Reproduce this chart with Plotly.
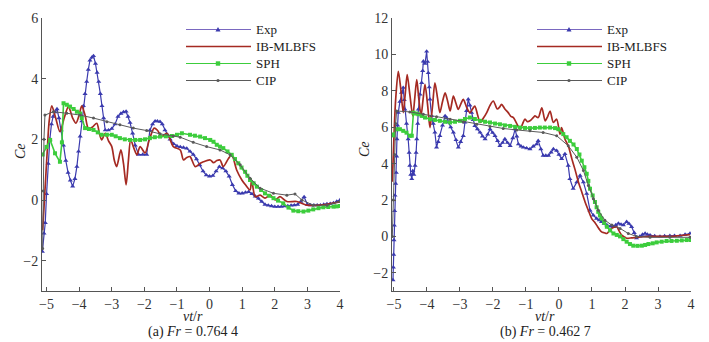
import plotly.graph_objects as go

# ---------------- (a) Fr = 0.764 4 ----------------
a_exp_x = [-5.13,-5.08,-5.04,-5.0,-4.95,-4.9,-4.85,-4.8,-4.74,-4.68,-4.62,-4.55,-4.48,-4.41,-4.34,-4.27,-4.2,-4.13,-4.07,-4.02,-3.97,-3.92,-3.87,-3.82,-3.77,-3.72,-3.67,-3.61,-3.56,-3.5,-3.45,-3.4,-3.35,-3.3,-3.25,-3.2,-3.1,-3.0,-2.9,-2.81,-2.72,-2.64,-2.56,-2.5,-2.44,-2.36,-2.28,-2.18,-2.05,-1.93,-1.83,-1.75,-1.67,-1.6,-1.52,-1.45,-1.37,-1.29,-1.21,-1.1,-1.0,-0.9,-0.8,-0.7,-0.6,-0.5,-0.4,-0.3,-0.2,-0.1,0.0,0.1,0.2,0.3,0.4,0.5,0.6,0.7,0.8,0.9,1.0,1.1,1.2,1.3,1.4,1.5,1.6,1.7,1.8,1.9,2.0,2.1,2.2,2.3,2.4,2.5,2.6,2.7,2.8,2.9,3.0,3.1,3.2,3.3,3.4,3.5,3.6,3.7,3.8,3.9,4.0]
a_exp_y = [-1.7,-1.1,-0.75,0.2,1.2,2.0,2.5,2.75,2.9,3.0,2.7,2.3,1.8,1.3,0.9,0.65,0.45,0.7,1.1,1.6,2.1,2.6,3.1,3.5,3.9,4.3,4.6,4.7,4.75,4.5,4.2,3.9,3.5,3.1,2.7,2.3,2.3,2.35,2.5,2.75,2.85,2.9,2.92,2.75,2.55,2.2,1.8,1.5,1.5,1.5,2.3,2.5,2.6,2.6,2.58,2.5,2.3,2.15,2.0,1.85,1.78,1.75,1.73,1.7,1.6,1.5,1.35,1.15,0.95,0.82,0.78,0.8,0.95,1.1,1.05,0.95,0.78,0.5,0.3,0.22,0.22,0.25,0.27,0.2,0.12,0.05,-0.05,-0.15,-0.18,-0.2,-0.22,-0.22,-0.22,-0.2,-0.2,-0.18,-0.17,-0.15,-0.05,0.1,-0.15,-0.17,-0.17,-0.17,-0.17,-0.15,-0.13,-0.12,-0.1,-0.05,0.0]

a_ib_x = [-5.12,-5.05,-4.98,-4.92,-4.84,-4.72,-4.59,-4.46,-4.33,-4.2,-4.1,-4.0,-3.92,-3.82,-3.72,-3.6,-3.46,-3.38,-3.31,-3.2,-3.1,-3.0,-2.92,-2.85,-2.72,-2.64,-2.56,-2.49,-2.42,-2.32,-2.23,-2.13,-1.98,-1.85,-1.7,-1.6,-1.47,-1.31,-1.11,-0.9,-0.8,-0.7,-0.6,-0.44,-0.3,-0.19,0.02,0.12,0.22,0.32,0.42,0.58,0.68,0.83,0.99,1.1,1.24,1.29,1.4,1.55,1.7,1.86,2.01,2.16,2.37,2.67,2.98,3.39,3.8,4.0]
a_ib_y = [-1.0,0.3,1.6,2.6,3.1,2.7,2.25,2.7,3.08,2.7,2.53,2.8,3.1,2.8,2.37,2.4,2.53,2.2,1.98,2.2,1.95,1.76,1.3,1.1,1.65,1.2,0.5,1.3,1.98,1.7,1.49,1.76,1.55,1.98,2.37,2.3,2.09,2.2,1.76,1.65,1.32,1.4,1.43,1.1,1.2,1.26,1.32,1.23,1.3,1.32,1.1,1.37,1.49,0.99,0.66,0.5,0.33,0.66,0.11,0.16,0.06,0.16,0.0,0.11,-0.05,-0.05,-0.17,-0.17,-0.1,-0.05]

a_sph_x = [-5.12,-5.0,-4.89,-4.74,-4.59,-4.53,-4.48,-4.38,-4.28,-4.17,-4.07,-3.97,-3.92,-3.82,-3.7,-3.56,-3.43,-3.31,-3.15,-3.0,-2.88,-2.75,-2.6,-2.44,-2.28,-2.13,-1.98,-1.83,-1.68,-1.52,-1.34,-1.16,-1.0,-0.85,-0.6,-0.45,-0.29,-0.14,0.02,0.12,0.22,0.32,0.42,0.55,0.68,0.78,0.88,0.98,1.09,1.16,1.24,1.35,1.45,1.58,1.7,1.83,1.96,2.1,2.26,2.42,2.57,2.72,2.88,3.03,3.18,3.34,3.49,3.64,3.8,3.9,4.0]
a_sph_y = [1.5,1.75,1.98,1.54,1.26,1.9,3.19,3.14,3.08,3.0,2.91,2.85,2.7,2.37,2.34,2.31,2.23,2.15,2.15,2.15,2.1,2.04,2.0,1.98,1.98,1.98,2.0,2.04,2.07,2.09,2.1,2.11,2.15,2.2,2.15,2.12,2.09,2.04,1.98,1.92,1.82,1.76,1.71,1.6,1.49,1.35,1.21,1.07,0.93,0.8,0.66,0.55,0.44,0.33,0.22,0.14,0.06,-0.02,-0.11,-0.25,-0.35,-0.37,-0.38,-0.35,-0.31,-0.27,-0.24,-0.23,-0.22,-0.21,-0.2]

a_cip_x = [-5.12,-5.1,-5.08,-5.05,-4.79,-4.38,-3.97,-3.56,-3.15,-2.75,-2.34,-1.93,-1.52,-1.11,-0.9,-0.5,-0.09,0.32,0.63,0.94,1.24,1.55,1.96,2.37,2.62,2.83,3.18,3.6,4.0]
a_cip_y = [-1.6,0.3,2.0,2.8,2.91,2.86,2.8,2.7,2.58,2.48,2.37,2.29,2.18,2.11,2.07,1.9,1.76,1.65,1.49,1.16,0.72,0.39,0.22,0.16,0.2,0.0,-0.17,-0.17,-0.05]

# ---------------- (b) Fr = 0.462 7 ----------------
b_exp_x = [-5.03,-5.02,-5.01,-5.0,-4.99,-4.98,-4.97,-4.95,-4.93,-4.92,-4.91,-4.89,-4.87,-4.82,-4.77,-4.72,-4.69,-4.67,-4.62,-4.57,-4.54,-4.52,-4.49,-4.46,-4.43,-4.4,-4.36,-4.33,-4.31,-4.28,-4.26,-4.21,-4.16,-4.13,-4.11,-4.06,-4.01,-3.98,-3.96,-3.93,-3.91,-3.86,-3.81,-3.76,-3.71,-3.66,-3.61,-3.53,-3.45,-3.4,-3.35,-3.28,-3.2,-3.12,-3.05,-2.98,-2.9,-2.85,-2.8,-2.75,-2.7,-2.65,-2.6,-2.55,-2.47,-2.39,-2.32,-2.24,-2.16,-2.09,-2.01,-1.94,-1.86,-1.79,-1.71,-1.64,-1.56,-1.48,-1.4,-1.33,-1.28,-1.23,-1.15,-1.08,-0.98,-0.88,-0.78,-0.68,-0.63,-0.55,-0.48,-0.4,-0.32,-0.24,-0.17,-0.07,0.0,0.08,0.18,0.28,0.33,0.43,0.54,0.64,0.74,0.84,0.94,1.04,1.14,1.22,1.29,1.37,1.45,1.55,1.65,1.72,1.8,1.88,1.95,2.05,2.12,2.2,2.28,2.35,2.45,2.53,2.61,2.68,2.76,2.9,3.06,3.2,3.36,3.5,3.67,3.82,3.97]
b_exp_y = [-2.4,-1.7,-1.0,-0.2,0.6,1.4,2.25,2.9,3.5,4.4,5.35,6.1,6.8,7.4,7.9,8.17,7.5,6.98,6.2,5.35,4.6,3.89,3.4,3.16,3.6,3.4,3.89,4.6,5.35,6.2,6.98,7.8,8.44,9.1,9.62,9.5,10.16,9.6,8.98,8.2,7.53,6.62,6.2,5.71,4.89,5.2,5.53,6.1,6.62,6.5,6.26,6.0,5.71,5.3,4.89,5.2,5.53,6.26,6.9,7.53,7.2,6.8,6.4,6.07,5.9,5.71,5.5,5.35,5.6,5.89,5.7,5.53,5.25,4.98,5.15,5.35,5.15,4.98,5.4,5.89,5.5,5.07,4.95,4.89,4.85,4.8,4.95,5.07,5.25,4.8,4.44,4.44,4.44,4.62,4.8,4.71,4.5,4.26,4.53,3.89,3.16,2.62,2.98,3.34,2.98,2.35,1.43,1.16,0.98,0.9,0.8,0.7,0.62,0.55,0.53,0.62,0.71,0.66,0.62,0.8,0.7,0.53,0.2,-0.1,0.0,0.1,0.16,0.1,0.07,0.02,0.0,0.02,0.04,0.04,0.04,0.1,0.16]

b_ib_x = [-5.05,-5.0,-4.95,-4.87,-4.8,-4.72,-4.66,-4.6,-4.52,-4.43,-4.37,-4.31,-4.25,-4.18,-4.12,-4.06,-3.98,-3.91,-3.83,-3.76,-3.68,-3.61,-3.53,-3.45,-3.37,-3.3,-3.25,-3.2,-3.12,-3.05,-2.97,-2.9,-2.8,-2.7,-2.62,-2.55,-2.47,-2.39,-2.29,-2.19,-2.09,-1.99,-1.87,-1.8,-1.74,-1.64,-1.54,-1.46,-1.38,-1.28,-1.18,-1.1,-1.03,-0.95,-0.88,-0.78,-0.73,-0.63,-0.52,-0.42,-0.34,-0.27,-0.17,-0.07,0.03,0.08,0.18,0.28,0.39,0.48,0.59,0.69,0.79,0.89,0.99,1.07,1.14,1.22,1.29,1.37,1.45,1.52,1.6,1.67,1.75,1.82,1.9,1.97,2.05,2.2,2.35,2.55,2.76,3.06,3.36,3.67,3.97]
b_ib_y = [3.0,5.5,7.5,9.07,8.2,6.8,7.8,8.89,7.8,6.62,7.6,8.62,7.6,6.62,7.5,8.35,7.2,5.98,7.2,8.44,7.6,6.8,7.4,7.89,7.4,6.89,7.3,7.71,7.3,6.98,7.3,7.53,7.1,6.8,7.0,7.16,6.7,6.26,6.5,6.8,7.2,7.44,7.0,7.1,7.26,7.0,6.8,6.6,6.53,6.2,5.89,6.2,6.44,6.3,6.35,6.53,6.62,6.53,7.07,6.35,6.6,6.89,6.26,6.44,5.62,5.98,5.35,4.98,4.26,3.71,2.98,2.44,1.89,1.43,0.98,0.8,0.62,0.4,0.25,0.2,0.16,0.3,0.44,0.5,0.53,0.3,0.07,-0.02,-0.1,-0.08,-0.05,-0.02,0.0,0.0,0.0,0.05,0.1]

b_sph_x = [-5.05,-5.02,-4.92,-4.82,-4.72,-4.62,-4.52,-4.46,-4.41,-4.33,-4.26,-4.16,-4.06,-3.91,-3.76,-3.61,-3.45,-3.3,-3.15,-3.0,-2.85,-2.7,-2.55,-2.39,-2.24,-2.09,-1.94,-1.79,-1.64,-1.48,-1.33,-1.18,-1.03,-0.88,-0.73,-0.58,-0.43,-0.27,-0.12,-0.02,0.13,0.23,0.33,0.44,0.54,0.62,0.69,0.77,0.84,0.89,0.94,1.02,1.09,1.14,1.19,1.24,1.29,1.37,1.45,1.55,1.65,1.75,1.85,1.95,2.05,2.15,2.25,2.38,2.51,2.61,2.71,2.84,2.96,3.11,3.26,3.41,3.57,3.72,3.87,4.0]
b_sph_y = [5.6,5.55,5.89,5.89,5.8,5.7,5.53,5.53,6.8,6.75,6.71,6.62,6.53,6.44,6.4,6.35,6.3,6.26,6.3,6.35,6.45,6.53,6.45,6.35,6.3,6.26,6.2,6.16,6.1,6.07,6.02,5.98,5.96,5.95,5.96,5.98,5.98,5.98,5.95,5.89,5.62,5.45,5.25,5.05,4.8,4.5,4.16,3.8,3.44,3.05,2.62,2.25,1.89,1.6,1.35,1.15,0.98,0.75,0.53,0.33,0.16,0.08,0.0,-0.15,-0.29,-0.42,-0.51,-0.52,-0.51,-0.47,-0.42,-0.38,-0.33,-0.29,-0.25,-0.25,-0.24,-0.22,-0.2,-0.2]

b_cip_x = [-5.05,-5.02,-4.98,-4.95,-4.92,-4.52,-4.11,-3.71,-3.3,-2.9,-2.49,-2.09,-1.69,-1.28,-0.88,-0.48,-0.07,0.28,0.54,0.74,0.89,1.04,1.19,1.39,1.6,1.85,2.1,2.35,2.76,3.36,3.97]
b_cip_y = [0.0,2.0,4.5,6.2,6.89,6.84,6.71,6.58,6.44,6.29,6.16,6.04,5.93,5.85,5.8,5.71,5.53,4.98,4.35,3.62,2.8,2.07,1.43,0.89,0.62,0.44,0.16,0.0,-0.05,-0.05,-0.05]

x_ticks = [-5, -4, -3, -2, -1, 0, 1, 2, 3, 4]
a_y_ticks = [-2, 0, 2, 4, 6]
b_y_ticks = [-2, 0, 2, 4, 6, 8, 10, 12]
series_names = ["Exp", "IB-MLBFS", "SPH", "CIP"]

FONT = "Times New Roman, Liberation Serif, serif"
C_EXP = "#3a3aae"
C_IB = "#a52a22"
C_SPH = "#3ccd3c"
C_CIP = "#5a5a5a"
LEG_COLORS = ["#7a68c0", C_IB, C_SPH, C_CIP]

fig = go.Figure()

def add_panel(ex, ey, ix, iy, sx, sy, cx, cy, xa, ya):
    fig.add_trace(go.Scatter(x=ex, y=ey, name=series_names[0], mode="lines+markers",
                             line=dict(color=C_EXP, width=1.2),
                             marker=dict(symbol="triangle-up", size=4.5, color=C_EXP),
                             xaxis=xa, yaxis=ya, showlegend=False))
    fig.add_trace(go.Scatter(x=ix, y=iy, name=series_names[1], mode="lines",
                             line=dict(color=C_IB, width=1.7, shape="spline", smoothing=0.8),
                             xaxis=xa, yaxis=ya, showlegend=False))
    fig.add_trace(go.Scatter(x=sx, y=sy, name=series_names[2], mode="lines+markers",
                             line=dict(color=C_SPH, width=1.6),
                             marker=dict(symbol="square", size=4, color=C_SPH),
                             xaxis=xa, yaxis=ya, showlegend=False))
    fig.add_trace(go.Scatter(x=cx, y=cy, name=series_names[3], mode="lines+markers",
                             line=dict(color=C_CIP, width=1.0),
                             marker=dict(symbol="circle", size=3, color=C_CIP),
                             xaxis=xa, yaxis=ya, showlegend=False))

add_panel(a_exp_x, a_exp_y, a_ib_x, a_ib_y, a_sph_x, a_sph_y, a_cip_x, a_cip_y, "x", "y")
add_panel(b_exp_x, b_exp_y, b_ib_x, b_ib_y, b_sph_x, b_sph_y, b_cip_x, b_cip_y, "x2", "y2")

axis_common = dict(showgrid=False, zeroline=False, showline=True, linecolor="#555555", linewidth=1,
                   ticks="inside", ticklen=4, tickcolor="#555555", mirror=False, automargin=False,
                   tickfont=dict(family=FONT, size=14, color="#333333"))

W, H = 709, 342
def px(x):
    return x / W
def py(y):
    return (H - y) / H
def dx(a, b):
    return [px(a), px(b)]
def dy(top, bottom):
    return [py(bottom), py(top)]

fig.update_layout(
    width=W, height=H, margin=dict(l=0, r=0, t=0, b=0, autoexpand=False),
    paper_bgcolor="white", plot_bgcolor="white",
    showlegend=False,
    xaxis=dict(domain=dx(42, 340), range=[-5.14, 4.0], tickvals=x_ticks, anchor="y", **axis_common),
    yaxis=dict(domain=dy(18, 291), range=[-3, 6], tickvals=a_y_ticks, anchor="x", **axis_common),
    xaxis2=dict(domain=dx(392, 691), range=[-5.06, 4.0], tickvals=x_ticks, anchor="y2", **axis_common),
    yaxis2=dict(domain=dy(18, 291), range=[-3, 12], tickvals=b_y_ticks, anchor="x2", **axis_common),
)

# ---- custom legends (paper coordinates) ----
def legend_block(x0, x1, xm, xt, rows_y):
    for i, name in enumerate(series_names):
        yy = rows_y[i]
        col = LEG_COLORS[i]
        fig.add_shape(type="line", xref="paper", yref="paper", x0=px(x0), x1=px(x1), y0=py(yy), y1=py(yy),
                      line=dict(color=col, width=1.5 if i == 1 else 1.2))
        if i == 0:
            path = f"M {px(xm-2.5)},{py(yy+2)} L {px(xm+2.5)},{py(yy+2)} L {px(xm)},{py(yy-2.5)} Z"
            fig.add_shape(type="path", xref="paper", yref="paper", path=path,
                          fillcolor=C_EXP, line=dict(width=0))
        elif i == 2:
            fig.add_shape(type="rect", xref="paper", yref="paper", x0=px(xm-2.2), x1=px(xm+2.2),
                          y0=py(yy+2.2), y1=py(yy-2.2), fillcolor=C_SPH, line=dict(width=0))
        elif i == 3:
            fig.add_shape(type="circle", xref="paper", yref="paper", x0=px(xm-1.6), x1=px(xm+1.6),
                          y0=py(yy+1.6), y1=py(yy-1.6), fillcolor=C_CIP, line=dict(width=0))
        fig.add_annotation(xref="paper", yref="paper", x=px(xt), y=py(yy), text=name, showarrow=False,
                           xanchor="left", yanchor="middle",
                           font=dict(family=FONT, size=13, color="#222222"))

rows = [29.5, 46.5, 63.5, 80.5]
legend_block(186, 251, 218, 254, rows)
legend_block(537, 602, 569, 605, rows)

ann_font = dict(family=FONT, size=14, color="#222222")
annots = [
    dict(x=px(20), y=py(151), text="<i>Ce</i>", textangle=-90),
    dict(x=px(365), y=py(149), text="<i>Ce</i>", textangle=-90),
    dict(x=px(193), y=py(316), text="<i>vt</i>/<i>r</i>"),
    dict(x=px(545), y=py(316), text="<i>vt</i>/<i>r</i>"),
    dict(x=px(193), y=py(332), text="(a) <i>Fr</i> = 0.764 4"),
    dict(x=px(545), y=py(332), text="(b) <i>Fr</i> = 0.462 7"),
]
for a in annots:
    fig.add_annotation(xref="paper", yref="paper", showarrow=False, font=ann_font,
                       xanchor="center", yanchor="middle", **a)

fig.write_html("out.html", config={"displayModeBar": False},
               post_script="document.body.style.margin='0';document.body.style.overflow='hidden';")
